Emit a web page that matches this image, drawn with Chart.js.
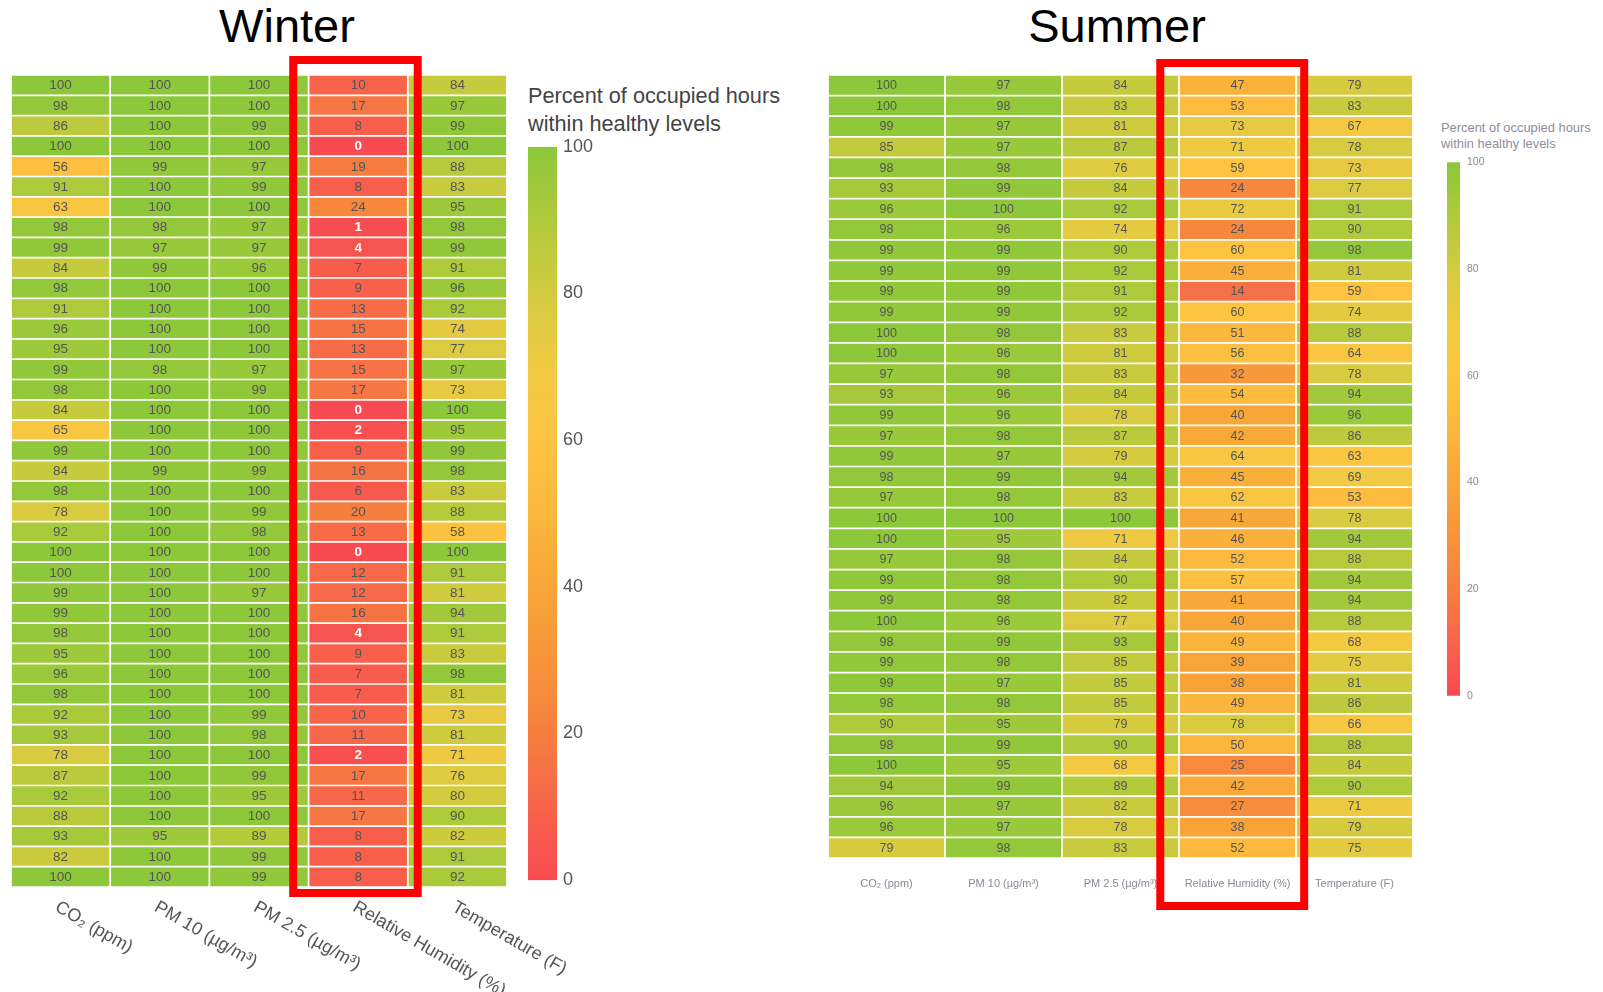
<!DOCTYPE html>
<html>
<head>
<meta charset="utf-8">
<script src="https://cdn.jsdelivr.net/npm/chart.js@4.4.1/dist/chart.umd.min.js"></script>
<style>
body { margin: 0; background: #fff; width: 1603px; height: 992px; position: relative; overflow: hidden; font-family: "Liberation Sans", Arial, sans-serif; }
canvas, .t { position: absolute; }
.title { font-size: 47px; line-height: 47px; color: #000; text-align: center; width: 240px; }
</style>
</head>
<body>
<div class="t title" style="left:167px;top:2px">Winter</div>
<div class="t title" style="left:997px;top:2px">Summer</div>
<div class="t" style="left:528px;top:82px;font-size:21.7px;line-height:28px;color:#444;">Percent of occupied hours<br>within healthy levels</div>
<div class="t" style="left:1441px;top:120px;font-size:12.9px;line-height:15.5px;color:#8d8d9c;">Percent of occupied hours<br>within healthy levels</div>
<canvas id="winter" width="600" height="992" style="left:0;top:0"></canvas>
<canvas id="winterBar" width="85" height="767" style="left:528px;top:130px"></canvas>
<canvas id="summer" width="640" height="992" style="left:800px;top:0"></canvas>
<canvas id="summerBar" width="50" height="560" style="left:1447px;top:149px"></canvas>
<script>
Chart.defaults.font.family = '"Liberation Sans", Arial, sans-serif';

const columns = ['CO₂ (ppm)', 'PM 10 (µg/m³)', 'PM 2.5 (µg/m³)', 'Relative Humidity (%)', 'Temperature (F)'];

// Winter, 40 rooms
const winterCO2  = [100,98,86,100,56,91,63,98,99,84,98,91,96,95,99,98,84,65,99,84,98,78,92,100,100,99,99,98,95,96,98,92,93,78,87,92,88,93,82,100];
const winterPM10 = [100,100,100,100,99,100,100,98,97,99,100,100,100,100,98,100,100,100,100,99,100,100,100,100,100,100,100,100,100,100,100,100,100,100,100,100,100,95,100,100];
const winterPM25 = [100,100,99,100,97,99,100,97,97,96,100,100,100,100,97,99,100,100,100,99,100,99,98,100,100,97,100,100,100,100,100,99,98,100,99,95,100,89,99,99];
const winterRH   = [10,17,8,0,19,8,24,1,4,7,9,13,15,13,15,17,0,2,9,16,6,20,13,0,12,12,16,4,9,7,7,10,11,2,17,11,17,8,8,8];
const winterTemp = [84,97,99,100,88,83,95,98,99,91,96,92,74,77,97,73,100,95,99,98,83,88,58,100,91,81,94,91,83,98,81,73,81,71,76,80,90,82,91,92];

// Summer, 38 rooms
const summerCO2  = [100,100,99,85,98,93,96,98,99,99,99,99,100,100,97,93,99,97,99,98,97,100,100,97,99,99,100,98,99,99,98,90,98,100,94,96,96,79];
const summerPM10 = [97,98,97,97,98,99,100,96,99,99,99,99,98,96,98,96,96,98,97,99,98,100,95,98,98,98,96,99,98,97,98,95,99,95,99,97,97,98];
const summerPM25 = [84,83,81,87,76,84,92,74,90,92,91,92,83,81,83,84,78,87,79,94,83,100,71,84,90,82,77,93,85,85,85,79,90,68,89,82,78,83];
const summerRH   = [47,53,73,71,59,24,72,24,60,45,14,60,51,56,32,54,40,42,64,45,62,41,46,52,57,41,40,49,39,38,49,78,50,25,42,27,38,52];
const summerTemp = [79,83,67,78,73,77,91,90,98,81,59,74,88,64,78,94,96,86,63,69,53,78,94,88,94,94,88,68,75,81,86,66,88,84,90,71,79,75];

const colorbarRange = [0, 100];

// colour scale, red -> orange -> yellow -> green
const stops = [[0,'#f84a51'],[10,'#f7644b'],[20,'#f67f3f'],[30,'#f7943a'],[40,'#f8a638'],[50,'#fbb73c'],
               [60,'#fdc441'],[70,'#f0ca42'],[80,'#d3cb3f'],[90,'#afca3b'],[100,'#8cc83a']];

function hex(c) { return [1,3,5].map(i => parseInt(c.substr(i, 2), 16)); }

function colorFor(v) {
    for (let i = 1; i < stops.length; i++) {
        if (v <= stops[i][0]) {
            const [v0, c0] = stops[i-1], [v1, c1] = stops[i];
            const t = (v - v0) / (v1 - v0);
            const a = hex(c0), b = hex(c1);
            return 'rgb(' + a.map((x, k) => Math.round(x + (b[k] - x) * t)).join(',') + ')';
        }
    }
    return stops[stops.length - 1][1];
}

function heatmap(id, series, o) {
    const n = series[0].length;
    const datasets = [];
    for (let r = 0; r < n; r++) {
        datasets.push({
            data: series.map(() => [r, r + 1]),
            backgroundColor: series.map(s => colorFor(s[r])),
            borderColor: '#fff',
            borderWidth: o.gap,
            borderSkipped: false,
            grouped: false,
            barPercentage: 1,
            categoryPercentage: 1
        });
    }
    return new Chart(document.getElementById(id), {
        type: 'bar',
        data: { labels: columns, datasets: datasets },
        options: {
            responsive: false,
            animation: false,
            events: [],
            layout: { padding: o.pad },
            plugins: { legend: { display: false }, tooltip: { enabled: false } },
            scales: {
                x: { display: false },
                y: { display: false, min: 0, max: n, reverse: true }
            }
        },
        plugins: [{
            id: 'cells',
            afterDatasetsDraw(chart) {
                const ctx = chart.ctx;
                ctx.save();
                ctx.textAlign = 'center';
                ctx.textBaseline = 'middle';
                for (let r = 0; r < n; r++) {
                    chart.getDatasetMeta(r).data.forEach((el, j) => {
                        const v = series[j][r];
                        const low = o.whiteBelow !== undefined && v <= o.whiteBelow;
                        ctx.font = (low ? 'bold ' : '') + o.cellFont + 'px "Liberation Sans", Arial, sans-serif';
                        ctx.fillStyle = low ? '#fff' : o.cellColor;
                        ctx.fillText(v, el.x, (el.y + el.base) / 2 + 0.5);
                    });
                }
                ctx.restore();
            },
            afterDraw(chart) {
                const ctx = chart.ctx, xs = chart.scales.x, a = chart.chartArea;
                const w = xs.getPixelForValue(1) - xs.getPixelForValue(0);
                ctx.save();
                // column labels
                ctx.fillStyle = o.labelColor;
                ctx.font = o.labelFont + 'px "Liberation Sans", Arial, sans-serif';
                columns.forEach((c, j) => {
                    const x = xs.getPixelForValue(j);
                    if (o.rotate) {
                        ctx.save();
                        ctx.translate(x - 4, a.bottom + o.labelOffset);
                        ctx.rotate(o.rotate * Math.PI / 180);
                        ctx.textAlign = 'left';
                        ctx.textBaseline = 'middle';
                        ctx.fillText(c, 0, 0);
                        ctx.restore();
                    } else {
                        ctx.textAlign = 'center';
                        ctx.textBaseline = 'middle';
                        ctx.fillText(c, x, a.bottom + o.labelOffset);
                    }
                });
                // red highlight box round the humidity column
                const cx = xs.getPixelForValue(3);
                ctx.strokeStyle = '#ff0000';
                ctx.lineWidth = 8;
                ctx.strokeRect(cx + o.box[0] * w, a.top + o.box[2], (o.box[1] - o.box[0]) * w, a.bottom - a.top + o.box[3] - o.box[2]);
                ctx.restore();
            }
        }]
    });
}

function colorbar(id, o) {
    return new Chart(document.getElementById(id), {
        type: 'bar',
        data: {
            labels: [''],
            datasets: [{
                data: [colorbarRange],
                backgroundColor(c) {
                    const a = c.chart.chartArea;
                    if (!a) return null;
                    const g = c.chart.ctx.createLinearGradient(0, a.bottom, 0, a.top);
                    stops.forEach(s => g.addColorStop(s[0] / 100, s[1]));
                    return g;
                },
                borderWidth: 0,
                barPercentage: 1,
                categoryPercentage: 1
            }]
        },
        options: {
            responsive: false,
            animation: false,
            events: [],
            layout: { padding: 0 },
            plugins: { legend: { display: false }, tooltip: { enabled: false } },
            scales: {
                x: { display: false },
                y: {
                    position: 'right',
                    min: colorbarRange[0], max: colorbarRange[1],
                    grid: { display: false, drawTicks: false },
                    border: { display: false },
                    ticks: { stepSize: 20, color: o.color, font: { size: o.font }, padding: o.tickPad },
                    afterFit(s) { s.width = o.axisWidth; }
                }
            }
        }
    });
}

heatmap('winter', [winterCO2, winterPM10, winterPM25, winterRH, winterTemp], {
    pad: { left: 11, top: 75, right: 93, bottom: 105 },
    gap: 1.2, cellFont: 13.5, cellColor: '#555', whiteBelow: 4,
    labelFont: 18, labelColor: '#555', rotate: 30, labelOffset: 19,
    box: [-0.655, 0.6, -15, 6]
});

heatmap('summer', [summerCO2, summerPM10, summerPM25, summerRH, summerTemp], {
    pad: { left: 28, top: 75, right: 27, bottom: 134 },
    gap: 1.2, cellFont: 12.5, cellColor: '#555',
    labelFont: 11, labelColor: '#8a8a96', rotate: 0, labelOffset: 26,
    box: [-0.66, 0.57, -12, 48]
});

colorbar('winterBar', { color: '#555', font: 18, tickPad: 6, axisWidth: 56 });
colorbar('summerBar', { color: '#8a8a96', font: 10.5, tickPad: 7, axisWidth: 37 });
</script>
</body>
</html>
